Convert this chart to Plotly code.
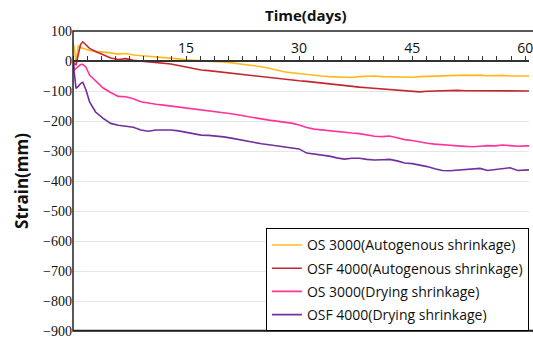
import plotly.graph_objects as go

days = [0, 0.2, 0.4, 0.7, 1.0, 1.3, 1.7, 2.2] + list(range(3, 61)) + [60.5]

os3000_auto = [60, 40, -5, 50, 45, 42, 40, 35,
               32, 30, 27, 23, 25, 20, 18, 16, 14, 13, 9, 7, 4, 2, 1, 0, -2, -3, -6, -8,
               -12, -15, -19, -24, -30, -36, -39, -42, -46, -48, -50, -52, -53, -54, -55,
               -52, -51, -50, -52, -53, -52, -55, -54, -52, -51, -50, -50, -49, -48, -47,
               -48, -47, -49, -48, -48, -50, -51, -50, -50]

osf4000_auto = [0, -10, -12, 20, 55, 64, 55, 42,
                32, 22, 10, 5, 8, 2, 0, -2, -5, -8, -10, -15, -20, -26, -30, -32, -35, -38,
                -41, -43, -46, -49, -52, -55, -58, -61, -63, -66, -68, -71, -74, -77, -80,
                -83, -85, -87, -89, -91, -93, -95, -98, -101, -102, -103, -101, -100, -99,
                -100, -98, -99, -99, -100, -101, -99, -100, -101, -100, -99, -100]

os3000_dry = [0, -30, -25, -18, -12, -11, -20, -47,
              -67, -90, -105, -118, -119, -126, -136, -141, -144, -147, -150, -153, -157,
              -161, -164, -166, -169, -173, -176, -180, -185, -190, -193, -197, -200, -203,
              -207, -213, -222, -227, -230, -233, -235, -237, -240, -242, -246, -251, -252,
              -250, -256, -262, -265, -270, -274, -277, -280, -281, -283, -285, -286, -284,
              -282, -283, -280, -282, -284, -283, -283]

osf4000_dry = [0, -60, -91, -85, -75, -71, -95, -136,
               -170, -191, -208, -214, -217, -221, -230, -234, -230, -229, -230, -233, -238,
               -243, -247, -248, -250, -253, -257, -262, -268, -273, -276, -279, -282, -286,
               -288, -293, -307, -310, -313, -317, -323, -327, -324, -324, -328, -330, -329,
               -328, -333, -340, -342, -346, -352, -359, -365, -366, -364, -363, -362, -358,
               -365, -362, -360, -356, -365, -362, -363]

series_names = ["OS 3000(Autogenous shrinkage)", "OSF 4000(Autogenous shrinkage)",
                "OS 3000(Drying shrinkage)", "OSF 4000(Drying shrinkage)"]
series_values = [os3000_auto, osf4000_auto, os3000_dry, osf4000_dry]
series_colors = ["#FFB81C", "#C0282E", "#FF3399", "#7030A0"]

x_tick_vals = [0, 15, 30, 45, 60]
x_tick_text = ["", "15", "30", "45", "60"]
y_tick_vals = list(range(-900, 101, 100))

SANS = "Open Sans"

fig = go.Figure()
for i, (name, vals, col) in enumerate(zip(series_names, series_values, series_colors)):
    fig.add_trace(go.Scatter(x=days, y=vals, mode="lines", name=name, legendgroup=f"g{i}",
                             line=dict(color=col, width=1.6)))

fig.update_layout(
    width=533, height=339,
    margin=dict(l=73, r=0, t=31, b=7),
    plot_bgcolor="white", paper_bgcolor="white",
    showlegend=True,
    legend=dict(x=0.423, y=0.342, xanchor="left", yanchor="top",
                bgcolor="white", bordercolor="#000000", borderwidth=1,
                font=dict(family=SANS, size=14, color="#111"),
                itemwidth=30, tracegroupgap=2),
    xaxis=dict(range=[0, 60.5], anchor="free", position=0.9, side="top",
               tickmode="array", tickvals=x_tick_vals, ticktext=x_tick_text,
               ticks="outside", ticklen=4, tickwidth=1.2, tickcolor="#333",
               showline=True, linecolor="#333", linewidth=2,
               showgrid=False, zeroline=False, ticklabeloverflow="allow",
               ticklabelstandoff=-3,
               tickfont=dict(family=SANS, size=14, color="#111"),
               minor=dict(tickvals=[i * 15 / 8 for i in range(1, 33)], ticks="outside",
                          ticklen=4, tickwidth=1.2, tickcolor="#333", showgrid=False)),
    yaxis=dict(range=[-900, 100], tickmode="array", tickvals=y_tick_vals,
               showgrid=True, gridcolor="#e6e6e6", gridwidth=1,
               zeroline=False, showline=False, ticks="", ticklabeloverflow="allow",
               tickfont=dict(family="Liberation Serif", size=14, color="#111"),
               title=dict(text="<b>Strain(mm)</b>", font=dict(family=SANS, size=17, color="#111"),
                          standoff=10)),
    shapes=[dict(type="rect", xref="paper", yref="paper", x0=0, x1=1.02, y0=0, y1=1,
                 line=dict(color="#222", width=1.5), layer="above"),
            dict(type="line", xref="paper", yref="paper", x0=0, x1=1.02, y0=0.002, y1=0.002,
                 line=dict(color="#222", width=1.5), layer="above")],
    annotations=[dict(text="<b>Time(days)</b>", xref="paper", yref="paper",
                      x=0.511, y=1.053, xanchor="center", yanchor="middle", showarrow=False,
                      font=dict(family=SANS, size=15, color="#111"))],
)

fig.write_html("out.html")
